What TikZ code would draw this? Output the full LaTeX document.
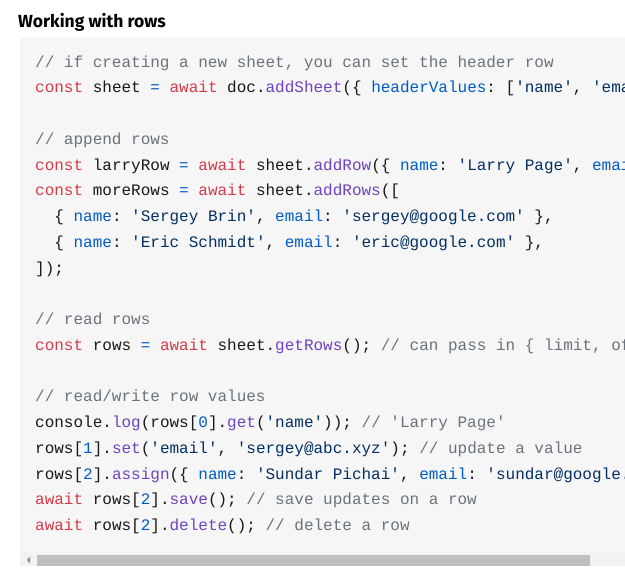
\documentclass[tikz,border=0pt]{standalone}
\usepackage{fontspec}
\setmainfont{Fira Sans}
\setmonofont{Liberation Mono}
\usetikzlibrary{calc}
\definecolor{kwred}{HTML}{D73A49}
\definecolor{fnpurple}{HTML}{6F42C1}
\definecolor{strblue}{HTML}{032F62}
\definecolor{propblue}{HTML}{005CC5}
\definecolor{cmgray}{HTML}{6A737D}
\definecolor{codebg}{HTML}{F6F6F6}
\newcommand{\kw}[1]{\textcolor{kwred}{#1}}
\newcommand{\fn}[1]{\textcolor{fnpurple}{#1}}
\newcommand{\st}[1]{\textcolor{strblue}{#1}}
\newcommand{\pr}[1]{\textcolor{propblue}{#1}}
\newcommand{\cm}[1]{\textcolor{cmgray}{#1}}
\tikzset{codeline/.style={anchor=base west,inner sep=0pt,font=\ttfamily\fontsize{16}{16}\selectfont,text=black!90}}

\begin{document}
\begin{tikzpicture}[x=1pt,y=-1pt]
    \useasboundingbox (0,0) rectangle (625,573);
    \node [anchor=base west,inner sep=0pt,font=\bfseries\fontsize{17.5}{17.5}\selectfont] (title) at (18,27) {Working with rows};
    \fill[codebg] (20,38) rectangle (625,566);
    \fill[black!5] (20,552) rectangle (625,566);
    \fill[black!25] (37,555) rectangle (590,566);
    \fill[black!45] (30,556.5)--(30,563.5)--(27,560)--cycle;
    \begin{scope}
    \clip (20,38) rectangle (625,552);
    \node[codeline] (l1) at (35,67) {\cm{// if creating a new sheet, you can set the header row}};
    \node[codeline] (l2) at (35,92.75) {\kw{const} sheet \pr{=} \kw{await} doc.\fn{addSheet}(\{ \pr{headerValues}: [\st{'name'}, \st{'email'}] \});};
    \node[codeline] (l4) at (35,144.25) {\cm{// append rows}};
    \node[codeline] (l5) at (35,170) {\kw{const} larryRow \pr{=} \kw{await} sheet.\fn{addRow}(\{ \pr{name}: \st{'Larry Page'}, \pr{email}: \st{'larry@google.com'} \});};
    \node[codeline] (l6) at (35,195.75) {\kw{const} moreRows \pr{=} \kw{await} sheet.\fn{addRows}([};
    \node[codeline] (l7) at (35,221.5) {\ \ \{ \pr{name}: \st{'Sergey Brin'}, \pr{email}: \st{'sergey@google.com'} \},};
    \node[codeline] (l8) at (35,247.25) {\ \ \{ \pr{name}: \st{'Eric Schmidt'}, \pr{email}: \st{'eric@google.com'} \},};
    \node[codeline] (l9) at (35,273) {]);};
    \node[codeline] (l11) at (35,324.5) {\cm{// read rows}};
    \node[codeline] (l12) at (35,350.25) {\kw{const} rows \pr{=} \kw{await} sheet.\fn{getRows}(); \cm{// can pass in \{ limit, offset \}}};
    \node[codeline] (l14) at (35,401.75) {\cm{// read/write row values}};
    \node[codeline] (l15) at (35,427.5) {console.\fn{log}(rows[\pr{0}].\fn{get}(\st{'name'})); \cm{// 'Larry Page'}};
    \node[codeline] (l16) at (35,453.25) {rows[\pr{1}].\fn{set}(\st{'email'}, \st{'sergey@abc.xyz'}); \cm{// update a value}};
    \node[codeline] (l17) at (35,479) {rows[\pr{2}].\fn{assign}(\{ \pr{name}: \st{'Sundar Pichai'}, \pr{email}: \st{'sundar@google.com'} \});};
    \node[codeline] (l18) at (35,504.75) {\kw{await} rows[\pr{2}].\fn{save}(); \cm{// save updates on a row}};
    \node[codeline] (l19) at (35,530.5) {\kw{await} rows[\pr{2}].\fn{delete}(); \cm{// delete a row}};
    \end{scope}
\end{tikzpicture}
\end{document}
